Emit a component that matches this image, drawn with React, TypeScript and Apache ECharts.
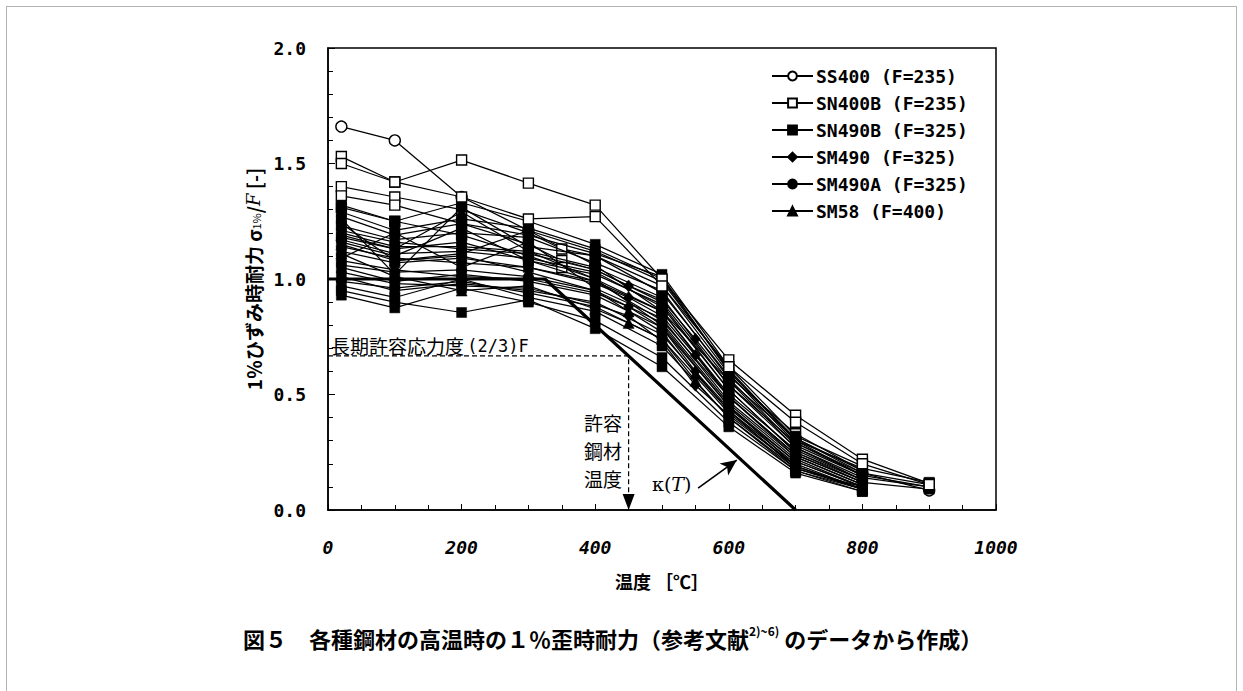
import { useEffect, useRef } from "react";
import * as echarts from "echarts";

type Pt = [number, number];

// Legend names (material, nominal F)
const NAMES = [
  "SS400 (F=235)",
  "SN400B (F=235)",
  "SN490B (F=325)",
  "SM490 (F=325)",
  "SM490A (F=325)",
  "SM58 (F=400)",
];

// [temperature °C, σ1%/F]
const SS400: Pt[][] = [
  [[20, 1.66], [100, 1.6], [200, 1.355], [300, 1.21], [400, 1.06], [500, 0.86], [600, 0.56], [700, 0.31], [800, 0.16], [900, 0.085]],
];

const SN400B_UPPER: Pt[][] = [
  [[20, 1.53], [100, 1.42], [200, 1.515], [300, 1.415], [400, 1.32], [500, 1.0], [600, 0.65], [700, 0.41], [800, 0.22], [900, 0.115]],
  [[20, 1.5], [100, 1.42], [200, 1.355], [300, 1.26], [400, 1.27], [500, 0.97], [600, 0.62], [700, 0.38], [800, 0.2], [900, 0.11]],
];

const SN400B_LOWER: Pt[][] = [
  [[20, 1.4], [100, 1.355], [200, 1.3], [300, 1.2], [350, 1.13], [400, 1.1], [500, 0.94], [600, 0.58], [700, 0.33], [800, 0.17]],
  [[20, 1.36], [100, 1.32], [200, 1.24], [300, 1.15], [350, 1.08], [400, 1.04], [500, 0.9], [600, 0.54], [700, 0.29], [800, 0.15]],
  [[20, 1.31], [100, 1.25], [200, 1.19], [300, 1.1], [350, 1.05], [400, 1.0], [500, 0.86], [600, 0.5], [700, 0.26], [800, 0.13]],
];

const SN490B: Pt[][] = [
  [[20, 1.32], [100, 1.25], [200, 1.33], [300, 1.25], [400, 1.15], [500, 1.02], [600, 0.62], [700, 0.32], [800, 0.19]],
  [[20, 1.29], [100, 1.21], [200, 1.26], [300, 1.22], [400, 1.13], [500, 1.0], [600, 0.6], [700, 0.31], [800, 0.17]],
  [[20, 1.26], [100, 1.02], [200, 1.31], [300, 1.14], [400, 1.1], [500, 0.97], [600, 0.59], [700, 0.29], [800, 0.16], [900, 0.11]],
  [[20, 1.23], [100, 1.17], [200, 1.2], [300, 1.18], [400, 1.07], [500, 0.95], [600, 0.57], [700, 0.28], [800, 0.15]],
  [[20, 1.2], [100, 1.14], [200, 1.14], [300, 1.12], [400, 1.05], [500, 0.92], [600, 0.54], [700, 0.27], [800, 0.14], [900, 0.1]],
  [[20, 1.16], [100, 1.1], [200, 1.22], [300, 1.08], [400, 1.02], [500, 0.89], [600, 0.52], [700, 0.25], [800, 0.13]],
  [[20, 1.12], [100, 1.07], [200, 1.09], [300, 1.05], [400, 0.99], [500, 0.86], [600, 0.49], [700, 0.24], [800, 0.12]],
  [[20, 1.09], [100, 1.2], [200, 1.05], [300, 1.16], [400, 0.96], [500, 0.83], [600, 0.47], [700, 0.23], [800, 0.11]],
  [[20, 1.05], [100, 0.99], [200, 1.02], [300, 0.99], [400, 0.93], [500, 0.79], [600, 0.45], [700, 0.21], [800, 0.1]],
  [[20, 1.01], [100, 0.95], [200, 0.98], [300, 0.95], [400, 0.9], [500, 0.76], [600, 0.43], [700, 0.2], [800, 0.09]],
  [[20, 0.97], [100, 0.92], [200, 1.0], [300, 0.92], [400, 0.86], [500, 0.71], [600, 0.4], [700, 0.18], [800, 0.09]],
  [[20, 0.93], [100, 0.875], [200, 0.96], [300, 0.9], [400, 0.82], [500, 0.66], [600, 0.38], [700, 0.17], [800, 0.08]],
  [[20, 0.95], [100, 0.9], [200, 0.855], [300, 0.91], [400, 0.785], [500, 0.62], [600, 0.36], [700, 0.16], [800, 0.08]],
  [[20, 1.24], [100, 1.08], [200, 1.11], [300, 1.21], [400, 1.12], [500, 0.99], [600, 0.61], [700, 0.3], [800, 0.18], [900, 0.12]],
  [[20, 1.18], [100, 1.13], [200, 1.16], [300, 1.08], [400, 0.99], [500, 0.82], [600, 0.49], [700, 0.24], [800, 0.12], [900, 0.09]],
];

const SM490: Pt[][] = [
  [[20, 1.21], [100, 1.16], [200, 1.13], [300, 1.11], [400, 1.04], [450, 0.97], [500, 0.91], [550, 0.74], [600, 0.56], [700, 0.27], [800, 0.13]],
  [[20, 1.14], [100, 1.09], [200, 1.07], [300, 1.05], [400, 0.98], [450, 0.92], [500, 0.84], [550, 0.67], [600, 0.49], [700, 0.23], [800, 0.11]],
  [[20, 1.08], [100, 1.04], [200, 1.01], [300, 1.0], [400, 0.94], [450, 0.88], [500, 0.79], [550, 0.6], [600, 0.44], [700, 0.21], [800, 0.1]],
  [[20, 1.03], [100, 0.98], [200, 0.97], [300, 0.96], [400, 0.89], [450, 0.84], [500, 0.73], [550, 0.54], [600, 0.41], [700, 0.19], [800, 0.09]],
];

const SM490A: Pt[][] = [
  [[20, 1.27], [100, 1.19], [200, 1.24], [300, 1.19], [400, 1.11], [500, 1.01], [600, 0.6], [700, 0.3], [800, 0.15], [900, 0.1]],
  [[20, 1.17], [100, 1.11], [200, 1.12], [300, 1.09], [400, 1.03], [500, 0.88], [600, 0.52], [700, 0.25], [800, 0.12]],
  [[20, 1.06], [100, 1.03], [200, 1.04], [300, 1.01], [400, 0.95], [500, 0.81], [600, 0.46], [700, 0.22], [800, 0.1]],
  [[20, 0.99], [100, 0.96], [200, 0.99], [300, 0.94], [400, 0.88], [500, 0.74], [600, 0.42], [700, 0.19], [800, 0.09]],
];

const SM58: Pt[][] = [
  [[20, 1.11], [100, 1.01], [200, 0.95], [300, 0.97], [400, 0.87], [450, 0.81], [500, 0.74], [550, 0.56], [600, 0.4], [700, 0.17], [800, 0.09]],
  [[20, 1.15], [100, 1.08], [200, 1.1], [300, 1.03], [400, 0.95], [450, 0.86], [500, 0.77], [550, 0.59], [600, 0.43], [700, 0.18], [800, 0.1]],
  [[20, 1.19], [100, 1.13], [200, 1.29], [300, 1.12], [400, 1.0], [500, 0.8], [600, 0.45], [700, 0.19]],
];

// κ(T): 1 up to 325 °C, then (700 - T)/375
const KAPPA: Pt[] = [[0, 1], [325, 1], [700, 0]];
// long-term allowable stress (2/3)F and the allowable steel temperature
const ALLOW_RATIO = 0.667;
const ALLOW_TEMP = 450;
const ALLOW_LINE: Pt[] = [[0, ALLOW_RATIO], [ALLOW_TEMP, ALLOW_RATIO], [ALLOW_TEMP, 0.06]];
const ALLOW_ARROW: Pt[] = [[ALLOW_TEMP, 0.035]];
const KAPPA_ARROW: Pt[] = [[554, 0.095], [612, 0.216]];

const Y_TICKS = [0, 0.5, 1.0, 1.5, 2.0];

export default function App() {
  const ref = useRef<HTMLDivElement>(null);

  useEffect(() => {
    const chart = echarts.init(ref.current!, null, { renderer: "svg" });
    const mono = "DejaVu Sans Mono";
    const jp = "Noto Sans CJK JP";

    const materials = [
      { name: NAMES[1], sets: SN400B_LOWER, symbol: "rect", size: 10, fill: "#fff", z: 2 },
      { name: NAMES[0], sets: SS400, symbol: "circle", size: 11, fill: "#fff", z: 2 },
      { name: NAMES[2], sets: SN490B, symbol: "rect", size: 10, fill: "#000", z: 3 },
      { name: NAMES[3], sets: SM490, symbol: "diamond", size: [10, 12], fill: "#000", z: 3 },
      { name: NAMES[4], sets: SM490A, symbol: "circle", size: 10, fill: "#000", z: 3 },
      { name: NAMES[5], sets: SM58, symbol: "triangle", size: 11, fill: "#000", z: 3 },
      { name: NAMES[1], sets: SN400B_UPPER, symbol: "rect", size: 10, fill: "#fff", z: 4 },
    ];

    const series: any[] = [];
    series.push({
      type: "line",
      name: "kappa",
      data: KAPPA,
      symbol: "none",
      silent: true,
      lineStyle: { color: "#000", width: 3.2 },
      z: 1,
      markLine: {
        silent: true,
        symbol: ["none", "arrow"],
        symbolSize: [11, 16],
        label: { show: false },
        lineStyle: { color: "#000", width: 1.6, type: "solid" },
        data: [[{ coord: KAPPA_ARROW[0] }, { coord: KAPPA_ARROW[1] }]],
      },
    });
    materials.forEach((m) => {
      m.sets.forEach((d) => {
        series.push({
          type: "line",
          name: m.name,
          data: d,
          symbol: m.symbol,
          symbolSize: m.size,
          showSymbol: true,
          silent: true,
          lineStyle: { color: "#000", width: 1.25 },
          itemStyle: {
            color: m.fill,
            borderColor: "#000",
            borderWidth: m.fill === "#fff" ? 1.4 : 0.5,
          },
          z: m.z,
        });
      });
    });

    series.push({
      type: "line",
      name: "allow",
      data: ALLOW_LINE,
      symbol: "none",
      silent: true,
      lineStyle: { color: "#000", width: 1.2, type: [5, 3] },
      z: 5,
    });
    series.push({
      type: "scatter",
      name: "allowArrow",
      data: ALLOW_ARROW,
      symbol: "triangle",
      symbolRotate: 180,
      symbolSize: [12, 16],
      silent: true,
      itemStyle: { color: "#000", opacity: 1 },
      z: 5,
    });

    chart.setOption({
      animation: false,
      backgroundColor: "#fff",
      grid: {
        left: 328,
        top: 48,
        right: 247,
        bottom: 181,
        show: true,
        borderColor: "#000",
        borderWidth: 1.5,
        backgroundColor: "transparent",
      },
      legend: {
        data: NAMES,
        orient: "vertical",
        left: 766,
        top: 62,
        itemWidth: 41,
        itemHeight: 11,
        itemGap: 9,
        selectedMode: false,
        textStyle: {
          fontFamily: mono,
          fontWeight: "bold",
          fontSize: 18,
          color: "#000",
          lineHeight: 17,
          padding: [0, 0, 0, -2],
        },
      },
      xAxis: {
        type: "value",
        min: 0,
        max: 1000,
        interval: 200,
        name: "温度 ［℃］",
        nameLocation: "middle",
        nameGap: 62,
        nameTextStyle: { fontFamily: jp, fontSize: 18, fontWeight: "bold", color: "#000" },
        axisLine: { show: true, lineStyle: { color: "#000", width: 1.5 } },
        axisTick: { show: true, inside: true, length: 6, lineStyle: { color: "#000" } },
        minorTick: { show: true, splitNumber: 4, length: 5, lineStyle: { color: "#000" } },
        splitLine: { show: false },
        axisLabel: {
          margin: 28,
          fontFamily: mono,
          fontSize: 18,
          fontStyle: "italic",
          fontWeight: "bold",
          color: "#000",
          formatter: (v: number) => String(v),
        },
      },
      yAxis: {
        type: "value",
        min: Y_TICKS[0],
        max: Y_TICKS[Y_TICKS.length - 1],
        interval: 0.5,
        name: "{a|1％ひずみ時耐力 σ}{s|1%}{a|/}{i|F}{a| [-]}",
        nameLocation: "middle",
        nameGap: 60,
        nameTextStyle: {
          color: "#000",
          rich: {
            a: { fontFamily: jp, fontSize: 19, fontWeight: "bold", color: "#000" },
            s: { fontFamily: jp, fontSize: 11, color: "#000", padding: [6, 0, 0, 0] },
            i: { fontFamily: "DejaVu Serif", fontStyle: "italic", fontSize: 18, color: "#000" },
          },
        },
        axisLine: { show: true, lineStyle: { color: "#000", width: 1.5 } },
        axisTick: { show: true, inside: true, length: 7, lineStyle: { color: "#000" } },
        minorTick: { show: true, splitNumber: 5, length: 5, lineStyle: { color: "#000" } },
        splitLine: { show: false },
        axisLabel: {
          margin: 22,
          fontFamily: mono,
          fontSize: 18,
          fontWeight: "bold",
          color: "#000",
          formatter: (v: number) => v.toFixed(1),
        },
      },
      graphic: [
        {
          type: "rect",
          silent: true,
          shape: { x: 6.5, y: 6.5, width: 1230, height: 720 },
          style: { fill: "none", stroke: "#666", lineWidth: 1, lineDash: [1, 1] },
        },
        {
          type: "text",
          left: 331,
          top: 336,
          silent: true,
          style: {
            text: "{a|長期許容応力度} {b|(2/3)F}",
            rich: {
              a: { fontFamily: jp, fontSize: 19, color: "#000" },
              b: { fontFamily: mono, fontSize: 17, color: "#000" },
            },
          },
        },
        {
          type: "text",
          right: 1243 - 622,
          top: 408,
          silent: true,
          style: {
            text: "許容\n鋼材\n温度",
            fontFamily: jp,
            fontSize: 19,
            lineHeight: 28,
            align: "right",
            fill: "#000",
          },
        },
        {
          type: "text",
          left: 652,
          top: 474,
          silent: true,
          style: {
            text: "{a|κ(}{i|T}{a|)}",
            rich: {
              a: { fontFamily: "DejaVu Serif", fontSize: 19, color: "#000" },
              i: { fontFamily: "DejaVu Serif", fontStyle: "italic", fontSize: 19, color: "#000" },
            },
          },
        },
        {
          type: "text",
          left: 243,
          top: 624,
          silent: true,
          style: {
            text: "{a|図５　各種鋼材の高温時の１％歪時耐力（参考文献}{s|2)~6)}{a| のデータから作成）}",
            rich: {
              a: { fontFamily: jp, fontSize: 22, fontWeight: "bold", color: "#000", lineHeight: 28 },
              s: { fontFamily: jp, fontSize: 12, fontWeight: "bold", color: "#000", lineHeight: 14, verticalAlign: "top" },
            },
          },
        },
      ],
      series,
    });

    return () => chart.dispose();
  }, []);

  return (
    <div
      ref={ref}
      style={{ position: "fixed", left: 0, top: 0, width: 1243, height: 691, background: "#fff" }}
    />
  );
}
